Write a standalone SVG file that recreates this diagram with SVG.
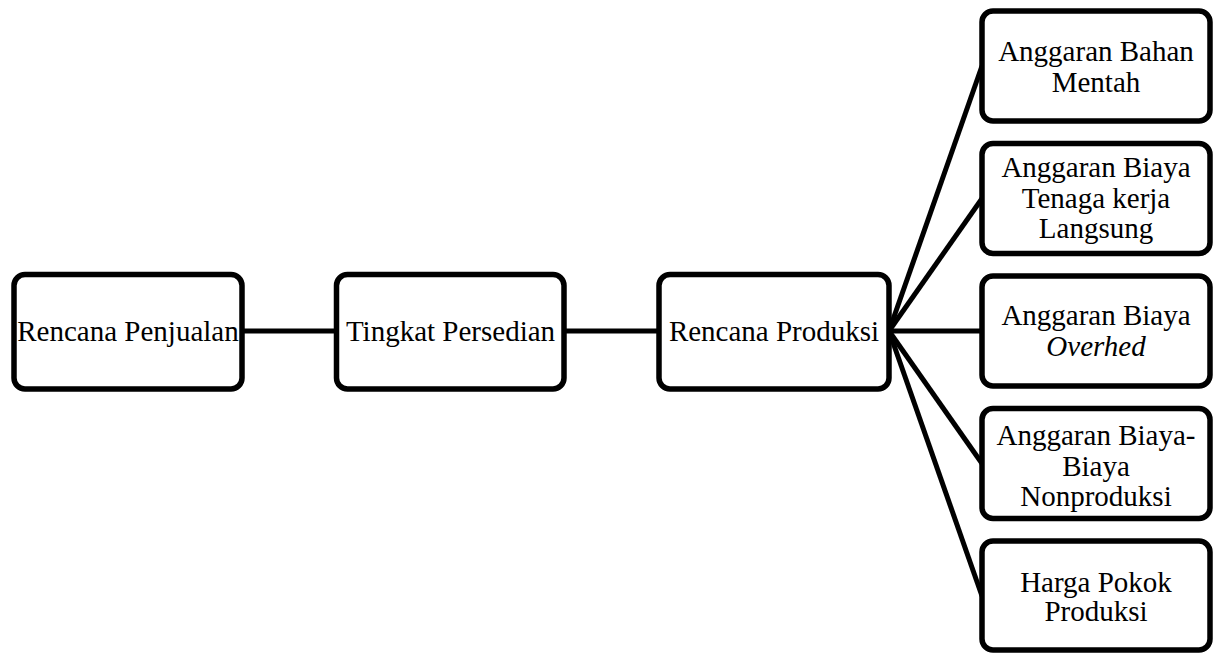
<svg xmlns="http://www.w3.org/2000/svg" width="1221" height="653" viewBox="0 0 1221 653">
<style>
.box{fill:#fff;stroke:#000;stroke-width:5.5}
.lbl{font-family:"Liberation Serif","Times New Roman",serif;font-size:29px;fill:#000;text-anchor:middle}
.conn{stroke:#000;stroke-width:5;fill:none}
</style>
<rect width="1221" height="653" fill="#fff"/>
<g id="connectors">
<line class="conn" x1="242" y1="331" x2="336" y2="331"/>
<line class="conn" x1="564" y1="331" x2="659" y2="331"/>
<line class="conn" x1="889" y1="331" x2="982" y2="66"/>
<line class="conn" x1="889" y1="331" x2="982" y2="198.5"/>
<line class="conn" x1="889" y1="331" x2="982" y2="331"/>
<line class="conn" x1="889" y1="331" x2="982" y2="463.5"/>
<line class="conn" x1="889" y1="331" x2="982" y2="596"/>
</g>
<g id="rencana-penjualan">
<rect class="box" x="14" y="274.5" width="228" height="114.5" rx="11"/>
<text class="lbl" x="128" y="341">Rencana Penjualan</text>
</g>
<g id="tingkat-persedian">
<rect class="box" x="336.5" y="274.5" width="227.5" height="114.5" rx="11"/>
<text class="lbl" x="450.5" y="341">Tingkat Persedian</text>
</g>
<g id="rencana-produksi">
<rect class="box" x="659" y="274.5" width="230" height="114.5" rx="11"/>
<text class="lbl" x="774" y="341">Rencana Produksi</text>
</g>
<g id="anggaran-bahan-mentah">
<rect class="box" x="982" y="11" width="228" height="110" rx="11"/>
<text class="lbl" x="1096" y="61">Anggaran Bahan</text>
<text class="lbl" x="1096" y="91.5">Mentah</text>
</g>
<g id="anggaran-biaya-tenaga-kerja">
<rect class="box" x="982" y="143.5" width="228" height="110" rx="11"/>
<text class="lbl" x="1096" y="177">Anggaran Biaya</text>
<text class="lbl" x="1096" y="207.5">Tenaga kerja</text>
<text class="lbl" x="1096" y="238">Langsung</text>
</g>
<g id="anggaran-biaya-overhed">
<rect class="box" x="982" y="276" width="228" height="110" rx="11"/>
<text class="lbl" x="1096" y="325">Anggaran Biaya</text>
<text class="lbl" x="1096" y="355.5" font-style="italic">Overhed</text>
</g>
<g id="anggaran-biaya-nonproduksi">
<rect class="box" x="982" y="408.5" width="228" height="110" rx="11"/>
<text class="lbl" x="1096" y="445">Anggaran Biaya-</text>
<text class="lbl" x="1096" y="475.5">Biaya</text>
<text class="lbl" x="1096" y="506">Nonproduksi</text>
</g>
<g id="harga-pokok-produksi">
<rect class="box" x="982" y="541" width="228" height="109" rx="11"/>
<text class="lbl" x="1096" y="592">Harga Pokok</text>
<text class="lbl" x="1096" y="621">Produksi</text>
</g>
</svg>
